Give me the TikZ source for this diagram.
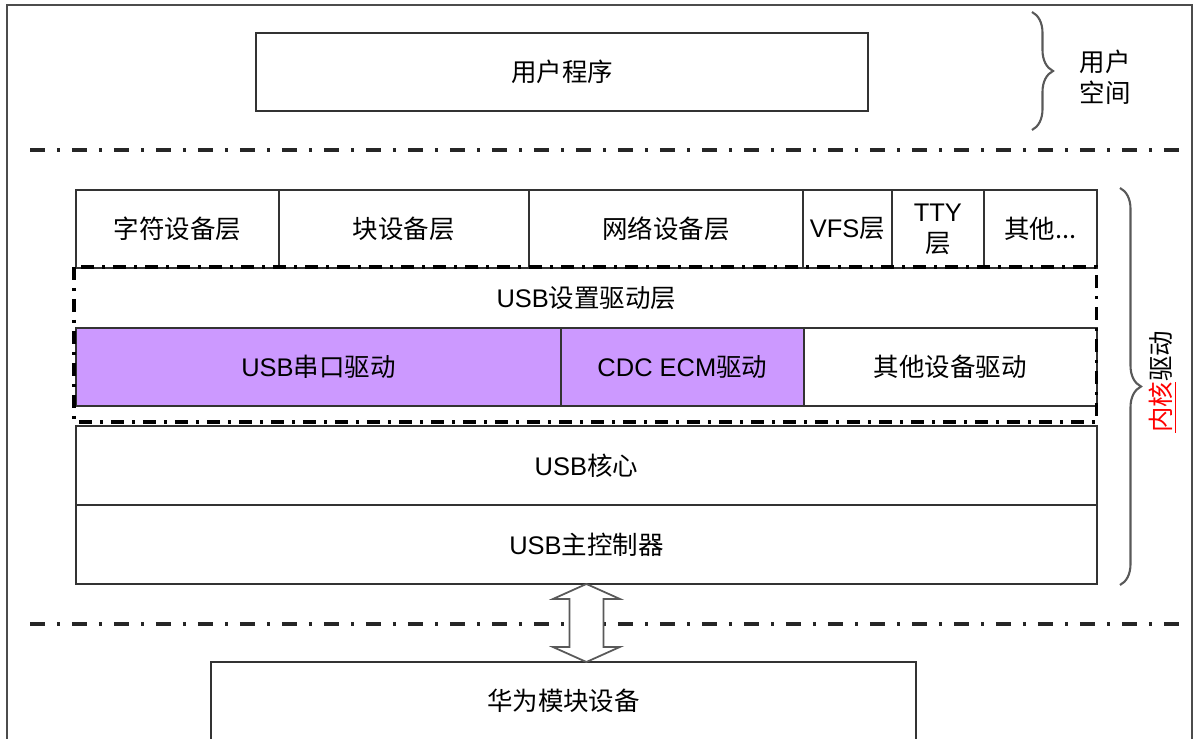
\documentclass[tikz,border=0pt]{standalone}
\usepackage{fontspec}
\setmainfont{Liberation Sans}
\newfontfamily\cjk{Noto Sans CJK SC}
\usetikzlibrary{positioning,decorations.pathreplacing,calc}
\definecolor{drvpurple}{HTML}{CC99FF}
\definecolor{linegray}{HTML}{333333}

\begin{document}
\begin{tikzpicture}[x=0.02cm, y=-0.02cm, font=\fontsize{14.5}{17.6}\selectfont,
    box/.style = {draw=linegray, line width=0.8pt, minimum height=1.56cm, inner sep=0pt, outer sep=0pt, align=center},
    cjk/.style = {font=\fontsize{14.5}{17.6}\selectfont\cjk},
    sep/.style = {draw=black!85, line width=2.3pt, dash pattern=on 0.3cm off 0.24cm on 0.06cm off 0.24cm},
    frm/.style = {draw=black, line width=1.8pt, dash pattern=on 0.26cm off 0.16cm on 0.06cm off 0.16cm},
    brc/.style = {draw=black!65, line width=1.2pt, decorate, decoration={brace, amplitude=0.42cm}},
    arr/.style = {draw=black!65, line width=1pt, fill=white, line join=miter}]
  \useasboundingbox (0,0) rectangle (1197,739);
  \draw[black!70, line width=1.2pt] (7,739) -- (7,5) -- (1192,5) -- (1192,739);

  % user space
  \node[box, cjk, minimum width=12.24cm] (app) at (562,72) {用户程序};
  \draw[brc] (1032,12) -- (1032,130);
  \node[cjk, align=center] (usr) at (1105,77) {用户\\空间};

  \draw[sep] (30,150) -- (1188,150);

  % kernel layers
  \node[box, cjk, minimum width=4.06cm, anchor=north west] (chr) at (76,190) {字符设备层};
  \node[box, cjk, minimum width=5cm, right=0pt of chr] (blk) {块设备层};
  \node[box, cjk, minimum width=5.48cm, right=0pt of blk] (net) {网络设备层};
  \node[box, minimum width=1.78cm, right=0pt of net] (vfs) {VFS{\cjk 层}};
  \node[box, minimum width=1.84cm, right=0pt of vfs] (tty) {TTY\\{\cjk 层}};
  \node[box, cjk, minimum width=2.26cm, right=0pt of tty] (oth) {其他...};

  \node[minimum width=20.42cm, minimum height=1.2cm, inner sep=0pt, outer sep=0pt, anchor=north west] (gad) at (76,268) {USB{\cjk 设置驱动层}};
  \node[box, fill=drvpurple, minimum width=9.7cm, anchor=north west] (ser) at (gad.south west) {USB{\cjk 串口驱动}};
  \node[box, fill=drvpurple, minimum width=4.86cm, right=0pt of ser] (ecm) {CDC ECM{\cjk 驱动}};
  \node[box, cjk, minimum width=5.86cm, right=0pt of ecm] (odrv) {其他设备驱动};
  \draw[frm] ($(gad.north west)+(-2,-1)$) rectangle ($(odrv.south east)+(0,16)$);

  \node[box, minimum width=20.42cm, minimum height=1.58cm, anchor=north west] (core) at (76,426) {USB{\cjk 核心}};
  \node[box, minimum width=20.42cm, minimum height=1.58cm, below=0pt of core] (hcd) {USB{\cjk 主控制器}};

  \draw[brc] (1120,188) -- (1120,585);
  \node[cjk, rotate=90] (kern) at (1163,382) {{\color{red}\underline{内核}}驱动};

  \draw[sep] (30,624) -- (1188,624);

  % module
  \node[box, cjk, minimum width=14.1cm, anchor=north] (mod) at (563.5,662) {华为模块设备};
  \draw[arr] (hcd.south) -- ++(33.5,15) -- ++(-16.5,0) -- ++(0,48) -- ++(16.5,0)
    -- (hcd.south |- mod.north) -- ++(-33.5,-15) -- ++(16.5,0) -- ++(0,-48) -- ++(-16.5,0) -- cycle;
\end{tikzpicture}
\end{document}
